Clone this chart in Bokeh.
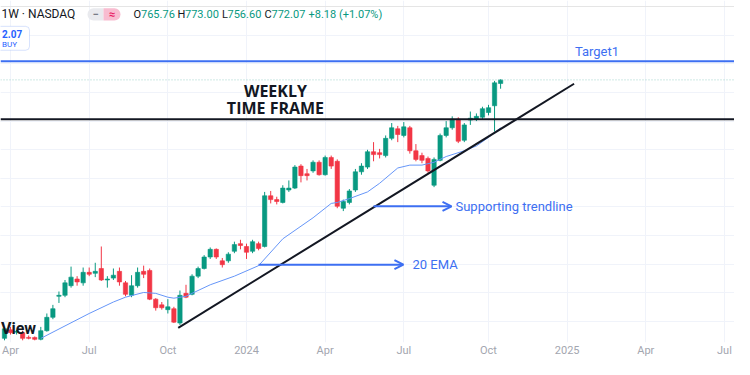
import pandas as pd
from bokeh.plotting import figure
from bokeh.models import (Range1d, FixedTicker, Label, Arrow, OpenHead, BoxAnnotation,
                          Span, ColumnDataSource, Grid)
from bokeh.embed import file_html
from bokeh.resources import INLINE

# ---------------- data (weekly NASDAQ candles) ----------------
first_week = "2023-03-27"

opens = [
    320.0, 335.0, 330.9, 330.0, 321.7, 321.7, 318.3, 333.4, 356.8, 393.6,
    395.3, 412.1, 423.8, 417.1, 435.5, 433.8, 442.2, 422.1, 425.4, 437.2,
    417.1, 395.3, 412.1, 437.2, 438.8, 388.6, 378.6, 370.2, 371.9, 346.8,
    398.7, 397.0, 428.8, 442.2, 462.3, 475.7, 455.6, 455.6, 472.3, 485.7,
    480.7, 472.3, 485.7, 480.7, 569.4, 562.7, 557.7, 579.5, 582.8, 621.3,
    607.9, 612.9, 628.0, 606.2, 636.4, 629.7, 547.6, 557.7, 579.5, 611.3,
    619.6, 646.4, 644.7, 639.7, 669.8, 686.6, 674.9, 688.3, 648.1, 639.7,
    634.7, 587.8, 631.3, 674.9, 688.3, 703.3, 666.5, 701.7, 703.3, 706.7,
    715.0, 726.8, 765.76,
]
highs = [
    340.1, 340.1, 335.0, 333.4, 325.0, 323.3, 340.1, 363.5, 378.6, 402.0,
    422.1, 445.5, 428.8, 443.9, 443.9, 452.2, 480.7, 428.8, 442.2, 443.9,
    420.4, 430.5, 443.9, 447.2, 442.2, 390.3, 383.6, 388.6, 375.2, 403.7,
    413.7, 432.1, 445.5, 465.6, 479.0, 477.3, 460.6, 470.6, 489.1, 492.4,
    485.7, 492.4, 489.1, 576.1, 577.8, 567.7, 587.8, 596.2, 623.0, 624.6,
    616.3, 631.3, 631.3, 639.7, 639.7, 633.0, 562.7, 581.1, 616.3, 626.3,
    649.8, 663.2, 651.4, 674.9, 696.6, 691.6, 698.3, 691.6, 659.8, 644.7,
    638.0, 636.4, 678.2, 700.0, 708.3, 706.7, 696.6, 716.7, 713.4, 725.1,
    728.4, 770.3, 773.00,
]
lows = [
    316.6, 326.7, 326.7, 316.6, 318.3, 316.6, 316.6, 331.7, 353.5, 381.9,
    392.0, 408.7, 412.1, 412.1, 428.8, 427.1, 420.4, 408.7, 422.1, 412.1,
    393.6, 392.0, 408.7, 425.4, 386.9, 368.5, 370.2, 363.5, 346.8, 343.4,
    390.3, 395.3, 425.4, 440.5, 458.9, 458.9, 443.9, 452.2, 469.0, 475.7,
    458.9, 469.0, 474.0, 479.0, 556.0, 554.3, 556.0, 576.1, 581.1, 592.8,
    596.2, 609.6, 604.6, 604.6, 616.3, 547.6, 542.6, 554.3, 576.1, 606.2,
    616.3, 629.7, 634.7, 636.4, 666.5, 663.2, 671.5, 643.1, 629.7, 626.3,
    609.6, 584.5, 629.7, 671.5, 684.9, 661.5, 663.2, 693.3, 700.0, 703.3,
    710.0, 681.6, 756.60,
]
closes = [
    336.7, 330.0, 332.5, 320.0, 320.0, 318.3, 333.4, 356.8, 371.9, 395.3,
    417.1, 427.1, 418.7, 435.5, 432.1, 437.2, 422.1, 423.8, 430.5, 418.7,
    397.0, 412.1, 435.5, 432.1, 388.6, 373.6, 373.6, 375.2, 348.4, 395.3,
    392.0, 428.8, 442.2, 462.3, 475.7, 462.3, 448.9, 467.3, 484.0, 482.4,
    470.6, 489.1, 477.3, 569.4, 562.7, 559.4, 582.8, 582.8, 619.6, 604.6,
    604.6, 628.0, 606.2, 636.4, 621.3, 551.0, 559.4, 577.8, 611.3, 621.3,
    646.4, 641.4, 641.4, 669.8, 688.3, 676.5, 689.9, 648.1, 633.0, 631.3,
    612.9, 633.0, 674.9, 688.3, 703.3, 664.8, 693.3, 705.0, 708.3, 721.7,
    723.4, 766.9, 772.07,
]

# 20 EMA, read at some weeks (week number counted from first_week)
ema_week = [6, 10, 14, 18, 20, 23, 25, 27, 28, 30, 31, 34, 38, 42, 46,
            51, 54, 55, 57, 60, 62, 65, 67, 69, 71, 73, 76, 78, 80, 82]
ema_values = [320.0, 341.8, 363.5, 383.6, 392.0, 400.3, 398.7, 392.0, 390.3, 393.6,
              398.7, 413.7, 428.8, 447.2, 494.1, 530.9, 556.0, 557.7, 564.4, 576.1,
              591.2, 618.0, 623.0, 623.0, 628.0, 638.0, 648.1, 656.5, 671.5, 688.3]

tick_dates = ["2023-04-03", "2023-07-03", "2023-10-02", "2024-01-01", "2024-04-01",
              "2024-07-01", "2024-10-07", "2025-01-06", "2025-04-07", "2025-07-07"]
tick_labels = ["Apr", "Jul", "Oct", "2024", "Apr", "Jul", "Oct", "2025", "Apr", "Jul"]

target1_price = 804.6
resistance_price = 703.3
last_close = 772.07
trend_dates = ["2023-10-14", "2025-01-14"]
trend_prices = [338.4, 765.3]

# ---------------- styles ----------------
UP = "#089981"
DOWN = "#f23645"
BLUE = "#3d6ff2"
EMA_BLUE = "#6696f8"
DARK = "#131722"
FONT = "Roboto"


def ms(d):
    return int(pd.Timestamp(d).value // 10**6)


DAY = 86400000
# mapping of the original screenshot (pixels) to chart data, used for the chart chrome
REF_BAR0_PX = 4.0
REF_PX_PER_DAY = 0.8643
REF_PRICE_TOP = 910.9
REF_PRICE_PER_PX = 1.674


def chrome_x(px):
    return ms(first_week) + (px - REF_BAR0_PX) / REF_PX_PER_DAY * DAY


def chrome_y(py):
    return REF_PRICE_TOP - REF_PRICE_PER_PX * py


weeks = pd.date_range(first_week, periods=len(closes), freq="7D")
week_ms = [ms(w) for w in weeks]
colors = [UP if c >= o else DOWN for o, c in zip(opens, closes)]
src = ColumnDataSource(dict(
    x=week_ms,
    top=[max(o, c) for o, c in zip(opens, closes)],
    bottom=[min(o, c) for o, c in zip(opens, closes)],
    high=highs, low=lows, color=colors,
))

p = figure(width=734, height=359,
           x_range=Range1d(chrome_x(0), chrome_x(734)),
           y_range=Range1d(chrome_y(357.3), chrome_y(0)),
           output_backend="svg", toolbar_location=None, y_axis_location=None,
           min_border_left=0, min_border_right=0, min_border_top=0, min_border_bottom=14,
           outline_line_color=None, background_fill_color="white",
           border_fill_color="white")

# axis
tick_ms = [ms(d) for d in tick_dates]
p.xaxis.ticker = FixedTicker(ticks=tick_ms)
p.xaxis.major_label_overrides = {t: lab for t, lab in zip(tick_ms, tick_labels)}
p.xaxis.axis_line_color = None
p.xaxis.major_tick_line_color = None
p.xaxis.major_tick_out = 0
p.xaxis.major_tick_in = 0
p.xaxis.minor_tick_line_color = None
p.xaxis.major_label_text_color = "#a3a6af"
p.xaxis.major_label_text_font = FONT
p.xaxis.major_label_text_font_size = "11px"
p.xaxis.major_label_standoff = 1

p.xgrid.ticker = FixedTicker(ticks=tick_ms)
p.xgrid.grid_line_color = "#f0f3fa"
p.add_layout(Grid(dimension=1, ticker=FixedTicker(ticks=[350, 400, 450, 500, 550, 600, 650, 700, 750, 800, 850]),
                  grid_line_color="#f0f3fa"))

# candles
p.segment(x0="x", y0="low", x1="x", y1="high", color="color", line_width=1, source=src)
p.vbar(x="x", width=5 * DAY, top="top", bottom="bottom", fill_color="color",
       line_color="color", line_width=0.6, source=src)

# 20 EMA
p.line([week_ms[i] for i in ema_week], ema_values, line_color=EMA_BLUE, line_width=1)

# drawings
p.add_layout(Span(location=last_close, dimension="width", line_color="#9fd3cb",
                  line_width=1, line_dash="1 2"))
p.add_layout(Span(location=target1_price, dimension="width", line_color=BLUE, line_width=2))
p.add_layout(Span(location=resistance_price, dimension="width", line_color=DARK, line_width=2))
p.line([ms(d) for d in trend_dates], trend_prices, line_color=DARK, line_width=2)

p.add_layout(Arrow(end=OpenHead(size=9, line_color=BLUE, line_width=2),
                   x_start=ms("2024-05-26 22:00"), y_start=551.0,
                   x_end=ms("2024-08-25 05:00"), y_end=551.0,
                   line_color=BLUE, line_width=2))
p.add_layout(Arrow(end=OpenHead(size=9, line_color=BLUE, line_width=2),
                   x_start=ms("2024-01-14 21:00"), y_start=448.9,
                   x_end=ms("2024-06-30 14:00"), y_end=448.9,
                   line_color=BLUE, line_width=2))

p.add_layout(Label(x=ms("2024-08-29 19:00"), y=551.0, text="Supporting trendline",
                   text_font=FONT, text_font_size="13px", text_color=BLUE,
                   text_align="left", text_baseline="middle"))
p.add_layout(Label(x=ms("2024-07-11 02:00"), y=448.9, text="20 EMA",
                   text_font=FONT, text_font_size="13px", text_color=BLUE,
                   text_align="left", text_baseline="middle"))
p.add_layout(Label(x=ms("2025-02-09 12:00"), y=821.3, text="Target1",
                   text_font=FONT, text_font_size="13px", text_color=BLUE,
                   text_align="center", text_baseline="middle"))
p.add_layout(Label(x=ms("2024-02-03 12:00"), y=753.0, text="WEEKLY",
                   text_font="Open Sans", text_font_size="16px", text_font_style="bold",
                   text_color=DARK, text_align="center", text_baseline="middle"))
p.add_layout(Label(x=ms("2024-02-03 12:00"), y=722.7, text="TIME FRAME",
                   text_font="Open Sans", text_font_size="16px", text_font_style="bold",
                   text_color=DARK, text_align="center", text_baseline="middle"))

# ---------------- chart chrome (header, order box, watermark) ----------------
p.add_layout(Label(x=chrome_x(1), y=chrome_y(14.5), text="1W · NASDAQ",
                   text_font=FONT, text_font_size="12px", text_color=DARK,
                   text_align="left", text_baseline="middle"))
p.add_layout(BoxAnnotation(left=chrome_x(87), right=chrome_x(103), top=chrome_y(8),
                           bottom=chrome_y(21), fill_color="#e9eaee", fill_alpha=1,
                           line_color=None, border_radius=(6, 0, 0, 6)))
p.add_layout(BoxAnnotation(left=chrome_x(103), right=chrome_x(120), top=chrome_y(8),
                           bottom=chrome_y(21), fill_color="#f8bcd0", fill_alpha=1,
                           line_color=None, border_radius=(0, 6, 6, 0)))
p.add_layout(Label(x=chrome_x(95), y=chrome_y(14.5), text="−", text_font=FONT,
                   text_font_size="11px", text_font_style="bold", text_color="#787b86",
                   text_align="center", text_baseline="middle"))
p.add_layout(Label(x=chrome_x(111.5), y=chrome_y(14.5), text="≈", text_font=FONT,
                   text_font_size="11px", text_font_style="bold", text_color="#e91e63",
                   text_align="center", text_baseline="middle"))

ohlc_parts = [("O", 133, DARK), ("765.76", 140.5, UP), ("H", 177, DARK), ("773.00", 184.5, UP),
              ("L", 221.5, DARK), ("756.60", 227, UP), ("C", 264, DARK), ("772.07", 271, UP),
              ("+8.18 (+1.07%)", 308, UP)]
for txt, px, col in ohlc_parts:
    p.add_layout(Label(x=chrome_x(px), y=chrome_y(14.5), text=txt, text_font=FONT,
                       text_font_size="11px", text_color=col, text_align="left",
                       text_baseline="middle"))

p.add_layout(BoxAnnotation(left=chrome_x(-4), right=chrome_x(29), top=chrome_y(27),
                           bottom=chrome_y(52), fill_color="white", fill_alpha=1,
                           line_color="#7ea3f7", line_width=1, border_radius=4))
p.add_layout(Label(x=chrome_x(1.5), y=chrome_y(35), text="2.07", text_font=FONT,
                   text_font_size="10px", text_font_style="bold", text_color="#2962ff",
                   text_align="left", text_baseline="middle"))
p.add_layout(Label(x=chrome_x(1.5), y=chrome_y(46), text="BUY", text_font=FONT,
                   text_font_size="8px", text_color="#2962ff",
                   text_align="left", text_baseline="middle"))

p.add_layout(Label(x=chrome_x(0.5), y=chrome_y(343), text="View", text_font=FONT,
                   text_font_size="16px", text_font_style="bold", text_color=DARK,
                   text_align="left", text_baseline="alphabetic"))

open("out.html", "w").write(file_html(p, INLINE))
